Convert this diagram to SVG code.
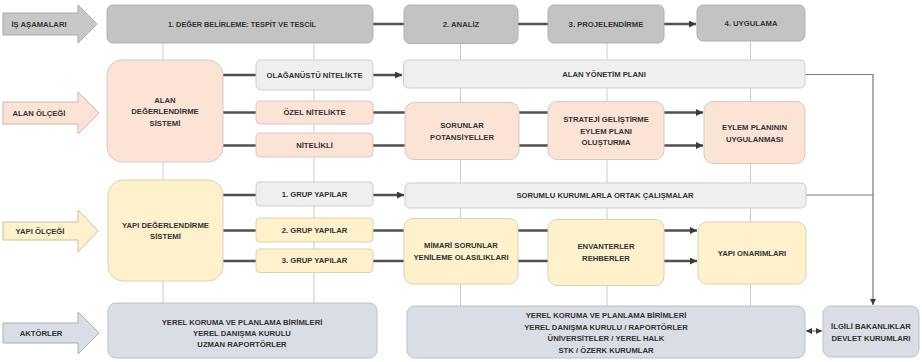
<svg xmlns="http://www.w3.org/2000/svg" width="922" height="362" viewBox="0 0 922 362">
<style>
.t{font-family:"Liberation Sans",Arial,sans-serif;font-weight:bold;font-size:7.7px;fill:#333333;text-anchor:middle;dominant-baseline:central}
.gt{fill:#c3c3c3;stroke:#b0b0b0;stroke-width:1}
.lg{fill:#efefef;stroke:#cdcdcd;stroke-width:1}
.pe{fill:#fbe4d6;stroke:#dbc9bc;stroke-width:1}
.ye{fill:#fff1cc;stroke:#ddd1ae;stroke-width:1}
.bl{fill:#d8dde6;stroke:#bac0ca;stroke-width:1}
.vl{stroke:#cbcbcb;stroke-width:1;fill:none}
.cn{stroke:#505050;stroke-width:2.5;fill:none}
.th{stroke:#7a7a7a;stroke-width:1.2;fill:none}
</style>
<defs>
<marker id="ah" viewBox="0 0 8 8" refX="8" refY="4" markerWidth="7" markerHeight="7" markerUnits="userSpaceOnUse" orient="auto-start-reverse">
<path d="M0,0 L8,4 L0,8 z" fill="#3a3a3a"/>
</marker>
<marker id="as" viewBox="0 0 8 8" refX="8" refY="4" markerWidth="6" markerHeight="6" markerUnits="userSpaceOnUse" orient="auto-start-reverse">
<path d="M0,0 L8,4 L0,8 z" fill="#3a3a3a"/>
</marker>
</defs>
<rect width="922" height="362" fill="#ffffff"/>

<g id="connectors">
<line class="vl" x1="163" y1="43" x2="163" y2="303"/>
<line class="vl" x1="314" y1="43" x2="314" y2="303"/>
<line class="vl" x1="460.5" y1="44" x2="460.5" y2="306"/>
<line class="vl" x1="607" y1="43" x2="607" y2="306"/>
<line class="vl" x1="750.5" y1="41" x2="750.5" y2="306"/>
<line class="cn" x1="373" y1="24" x2="404" y2="24"/>
<line class="cn" x1="518" y1="24" x2="548" y2="24"/>
<line class="cn" x1="664" y1="24" x2="696" y2="24" marker-end="url(#ah)"/>
<line class="cn" x1="223" y1="75" x2="256" y2="75"/>
<line class="cn" x1="223" y1="112.5" x2="256" y2="112.5"/>
<line class="cn" x1="223" y1="145.5" x2="256" y2="145.5"/>
<line class="cn" x1="373" y1="75" x2="402" y2="75" marker-end="url(#ah)"/>
<line class="cn" x1="373" y1="112.5" x2="405" y2="112.5"/>
<line class="cn" x1="373" y1="145.5" x2="405" y2="145.5"/>
<line class="cn" x1="519" y1="112.5" x2="548" y2="112.5"/>
<line class="cn" x1="519" y1="145.5" x2="548" y2="145.5"/>
<line class="cn" x1="664" y1="112.5" x2="703" y2="112.5" marker-end="url(#ah)"/>
<line class="cn" x1="664" y1="145.5" x2="703" y2="145.5" marker-end="url(#ah)"/>
<line class="cn" x1="223" y1="195" x2="256" y2="195"/>
<line class="cn" x1="223" y1="230.5" x2="256" y2="230.5"/>
<line class="cn" x1="223" y1="261" x2="256" y2="261"/>
<line class="cn" x1="373" y1="195" x2="404" y2="195" marker-end="url(#ah)"/>
<line class="cn" x1="373" y1="230.5" x2="404" y2="230.5"/>
<line class="cn" x1="373" y1="261" x2="404" y2="261"/>
<line class="cn" x1="518" y1="230.5" x2="548" y2="230.5"/>
<line class="cn" x1="518" y1="261" x2="548" y2="261"/>
<line class="cn" x1="664" y1="230.5" x2="697" y2="230.5" marker-end="url(#ah)"/>
<line class="cn" x1="664" y1="261" x2="697" y2="261" marker-end="url(#ah)"/>
<polyline class="th" points="805,74.5 873,74.5 873,305" marker-end="url(#as)"/>
<line class="th" x1="806" y1="195" x2="873" y2="195"/>
<line class="th" x1="806" y1="331" x2="822" y2="331" marker-start="url(#as)" marker-end="url(#as)"/>
</g>

<g id="is-asamalari">
<polygon points="3,13 78,13 78,5 97,24 78,43 78,35 3,35" fill="#c8c8c8" stroke="#a9a9a9"/>
<text class="t" x="39" y="24">İŞ AŞAMALARI</text>
</g>
<g id="alan-olcegi">
<polygon points="3,102 78,102 78,92 99,113 78,134 78,124 3,124" fill="#fbe4d6" stroke="#c9b5a7"/>
<text class="t" x="39" y="113">ALAN ÖLÇEĞİ</text>
</g>
<g id="yapi-olcegi">
<polygon points="3,222 78,222 78,210 98,231 78,252 78,240 3,240" fill="#fff1cc" stroke="#cdc09e"/>
<text class="t" x="40" y="231.5">YAPI ÖLÇEĞİ</text>
</g>
<g id="aktorler">
<polygon points="3,323 78,323 78,312 99,333 78,354 78,343 3,343" fill="#d8dde6" stroke="#a9b0bc"/>
<text class="t" x="41" y="333.5">AKTÖRLER</text>
</g>

<g id="stage1">
<rect class="gt" x="107" y="5" width="266" height="38" rx="6"/>
<text class="t" x="242" y="24" style="font-size:7.3px">1. DEĞER BELİRLEME: TESPİT VE TESCİL</text>
</g>
<g id="stage2">
<rect class="gt" x="404" y="5" width="114" height="38.5" rx="6"/>
<text class="t" x="461" y="24">2. ANALİZ</text>
</g>
<g id="stage3">
<rect class="gt" x="548" y="5" width="116" height="38" rx="6"/>
<text class="t" x="606" y="24">3. PROJELENDİRME</text>
</g>
<g id="stage4">
<rect class="gt" x="697" y="5" width="108" height="36" rx="6"/>
<text class="t" x="751" y="23">4. UYGULAMA</text>
</g>

<g id="alan-degerlendirme">
<rect class="pe" x="107" y="60" width="116" height="102" rx="15"/>
<text class="t" x="165" y="100">ALAN</text>
<text class="t" x="165" y="111.5">DEĞERLENDİRME</text>
<text class="t" x="165" y="123">SİSTEMİ</text>
</g>
<g id="olaganustu">
<rect class="lg" x="256" y="60" width="117" height="30" rx="5"/>
<text class="t" x="314.5" y="75">OLAĞANÜSTÜ NİTELİKTE</text>
</g>
<g id="ozel">
<rect class="pe" x="256" y="101" width="117" height="23" rx="4"/>
<text class="t" x="314.5" y="112.5">ÖZEL NİTELİKTE</text>
</g>
<g id="nitelikli">
<rect class="pe" x="256" y="133" width="117" height="24" rx="4"/>
<text class="t" x="314.5" y="145">NİTELİKLİ</text>
</g>
<g id="alan-yonetim">
<rect class="lg" x="403.5" y="60" width="401.5" height="28" rx="5"/>
<text class="t" x="604" y="74">ALAN YÖNETİM PLANI</text>
</g>
<g id="sorunlar">
<rect class="pe" x="405" y="102.5" width="114" height="57" rx="9"/>
<text class="t" x="462" y="125">SORUNLAR</text>
<text class="t" x="462" y="137">POTANSİYELLER</text>
</g>
<g id="strateji">
<rect class="pe" x="548" y="101.5" width="116" height="58" rx="9"/>
<text class="t" x="606" y="119.5">STRATEJİ GELİŞTİRME</text>
<text class="t" x="606" y="131">EYLEM PLANI</text>
<text class="t" x="606" y="142.5">OLUŞTURMA</text>
</g>
<g id="eylem">
<rect class="pe" x="704" y="101.5" width="101" height="62" rx="9"/>
<text class="t" x="754.5" y="127">EYLEM PLANININ</text>
<text class="t" x="754.5" y="139">UYGULANMASI</text>
</g>

<g id="yapi-degerlendirme">
<rect class="ye" x="108" y="180" width="115" height="101" rx="15"/>
<text class="t" x="165.5" y="225">YAPI DEĞERLENDİRME</text>
<text class="t" x="165.5" y="236.5">SİSTEMİ</text>
</g>
<g id="grup1">
<rect class="lg" x="256" y="182" width="117" height="24" rx="4"/>
<text class="t" x="314.5" y="194">1. GRUP YAPILAR</text>
</g>
<g id="grup2">
<rect class="ye" x="256" y="218" width="117" height="24" rx="4"/>
<text class="t" x="314.5" y="230">2. GRUP YAPILAR</text>
</g>
<g id="grup3">
<rect class="ye" x="256" y="249" width="117" height="23.5" rx="4"/>
<text class="t" x="314.5" y="260.5">3. GRUP YAPILAR</text>
</g>
<g id="sorumlu">
<rect class="lg" x="405" y="183" width="401" height="25" rx="5"/>
<text class="t" x="605" y="195">SORUMLU KURUMLARLA ORTAK ÇALIŞMALAR</text>
</g>
<g id="mimari">
<rect class="ye" x="404" y="218.5" width="114" height="65.5" rx="9"/>
<text class="t" x="461" y="245.5">MİMARİ SORUNLAR</text>
<text class="t" x="461" y="257.5">YENİLEME OLASILIKLARI</text>
</g>
<g id="envanter">
<rect class="ye" x="548" y="219.5" width="116" height="66" rx="9"/>
<text class="t" x="606" y="246">ENVANTERLER</text>
<text class="t" x="606" y="258">REHBERLER</text>
</g>
<g id="yapi-onarim">
<rect class="ye" x="698" y="222" width="108" height="62" rx="9"/>
<text class="t" x="752" y="253">YAPI ONARIMLARI</text>
</g>

<g id="aktor-yerel">
<rect class="bl" x="108" y="303" width="269" height="55" rx="8"/>
<text class="t" x="242" y="322.5">YEREL KORUMA VE PLANLAMA BİRİMLERİ</text>
<text class="t" x="242" y="333.5">YEREL DANIŞMA KURULU</text>
<text class="t" x="242" y="344.5">UZMAN RAPORTÖRLER</text>
</g>
<g id="aktor-genis">
<rect class="bl" x="407" y="306" width="398" height="52" rx="8"/>
<text class="t" x="606" y="315.5">YEREL KORUMA VE PLANLAMA BİRİMLERİ</text>
<text class="t" x="606" y="327">YEREL DANIŞMA KURULU  / RAPORTÖRLER</text>
<text class="t" x="606" y="338.5">ÜNİVERSİTELER / YEREL HALK</text>
<text class="t" x="606" y="350">STK / ÖZERK KURUMLAR</text>
</g>
<g id="ilgili">
<rect class="bl" x="823" y="306" width="96" height="51" rx="8"/>
<text class="t" x="871" y="326">İLGİLİ BAKANLIKLAR</text>
<text class="t" x="871" y="338">DEVLET KURUMLARI</text>
</g>
</svg>
